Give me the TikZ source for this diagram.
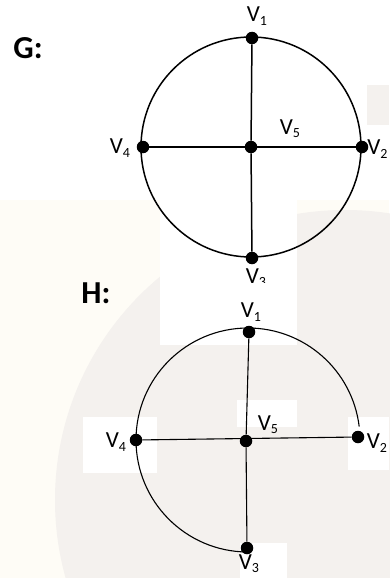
\documentclass[tikz,border=0pt]{standalone}
\usepackage{fontspec}
\setmainfont{Carlito}
\newcommand{\vlab}[1]{V\raisebox{-0.3ex}{\fontsize{14}{14}\selectfont #1}}
\definecolor{globe}{RGB}{244,241,238}
\definecolor{sand}{RGB}{254,252,246}
\begin{document}
\begin{tikzpicture}[x=1pt,y=-1pt,
  vtx/.style={circle,fill=black,inner sep=0pt,minimum size=12.5pt},
  lab/.style={inner sep=0pt,font=\fontsize{23}{23}\selectfont},
  edgeG/.style={line width=1.5pt},
  edgeH/.style={line width=1.1pt},
  ttl/.style={inner sep=0pt,font=\fontsize{32}{32}\selectfont\bfseries},
  blank/.style={fill=white,draw=none}]
\useasboundingbox (0,0) rectangle (389,578);
% faint watermark background
\fill[sand] (0,200) rectangle (389,578);
\fill[globe] (345,500) circle (290);
\fill[globe] (367,85) rectangle (389,125);
% white patches (label boxes)
\fill[blank] (0,0) rectangle (389,85);
\fill[blank] (0,0) rectangle (297,200);
\fill[blank] (160,200) rectangle (297,345);
\fill[blank] (237,400) rectangle (297,427);
\fill[blank] (348,417) rectangle (389,470);
\fill[blank] (83,417) rectangle (157,473);
\fill[blank] (240,543) rectangle (287,578);

% ---------- G ----------
\node[ttl] (tg) at (28,48) {G:};
\node[vtx] (g1) at (252,38) {};
\node[vtx] (g2) at (362,147) {};
\node[vtx] (g3) at (252,258) {};
\node[vtx] (g4) at (143,147) {};
\node[vtx] (g5) at (251,147) {};
\draw[edgeG] (g5.center) circle (110);
\draw[edgeG] (g1) -- (g5) -- (g3);
\draw[edgeG] (g4) -- (g5) -- (g2);
\node[lab] (lg1) at (257,16) {\vlab{1}};
\node[lab] (lg2) at (377.5,149) {\vlab{2}};
\node[lab] (lg3) at (256,278) {\vlab{3}};
\node[lab] (lg4) at (120,148) {\vlab{4}};
\node[lab] (lg5) at (290,129) {\vlab{5}};
\fill[blank] (160,283) rectangle (297,300);

% ---------- H ----------
\node[ttl] (th) at (96,293) {H:};
\node[vtx] (h1) at (249,332) {};
\node[vtx] (h2) at (358,437) {};
\node[vtx] (h3) at (247,548) {};
\node[vtx] (h4) at (136,440) {};
\node[vtx] (h5) at (246,441) {};
\draw[edgeH] (h4.center) arc[start angle=180, end angle=353.1, radius=112];
\draw[edgeH] (h4.center) arc[start angle=180, end angle=90.5, radius=112];
\draw[edgeH] (h1) -- (h5) -- (h3);
\draw[edgeH] (h4) -- (h2);
\node[lab] (lh1) at (251,312) {\vlab{1}};
\node[lab] (lh2) at (377,443) {\vlab{2}};
\node[lab] (lh3) at (249,564) {\vlab{3}};
\node[lab] (lh4) at (116,442) {\vlab{4}};
\node[lab] (lh5) at (268,425) {\vlab{5}};
\end{tikzpicture}
\end{document}
